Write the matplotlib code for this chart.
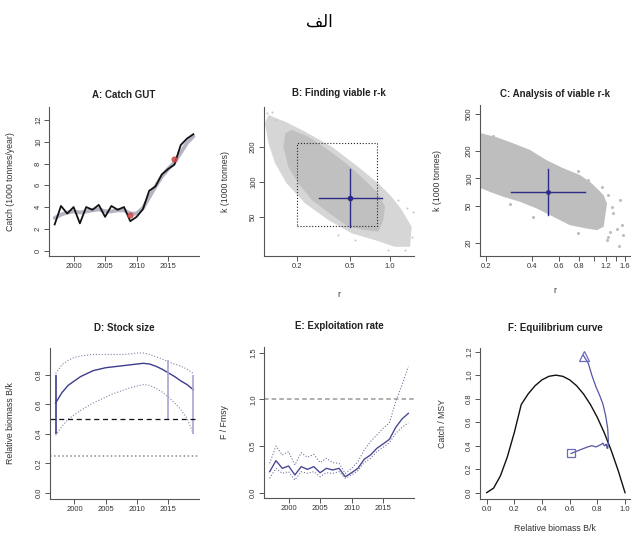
import matplotlib
matplotlib.use("Agg")
import matplotlib.pyplot as plt

plt.rcParams['font.family'] = ['Liberation Sans', 'DejaVu Sans']

# ---- data -------------------------------------------------------------
years = list(range(1997, 2020))

catch = [2.4, 4.1, 3.4, 4.0, 2.5, 4.0, 3.75, 4.2, 3.1, 4.1, 3.75, 4.0,
         2.7, 3.1, 3.8, 5.5, 5.9, 7.0, 7.5, 7.9, 9.7, 10.3, 10.7]
catch_smooth = [3.0, 3.3, 3.5, 3.6, 3.5, 3.6, 3.7, 3.8, 3.6, 3.6, 3.7, 3.7,
                3.4, 3.4, 3.9, 4.9, 5.9, 6.8, 7.5, 8.1, 9.0, 9.9, 10.5]
flag_years = [2009, 2016]
flag_catch = [3.3, 8.4]
msy = 9.0

# viable r-k cloud (outline of dense core and of the sparse fringe)
b_core_r = [0.1815, 0.242, 0.343, 0.485, 0.649, 0.817, 0.918, 0.891, 0.817,
            0.649, 0.485, 0.364, 0.257, 0.204, 0.171, 0.157, 0.162]
b_core_k = [279, 244, 187, 139, 103, 79, 61, 46.9, 37.2,
            38.4, 41, 51.8, 69.7, 96.8, 134, 200, 261]
b_fringe_r = [0.121, 0.162, 0.229, 0.364, 0.577, 0.817, 1.03, 1.23, 1.46, 1.42,
              1.09, 0.771, 0.515, 0.343, 0.229, 0.166, 0.136, 0.121, 0.114]
b_fringe_k = [375, 328, 269, 200, 134, 96.8, 74.3, 57.1, 41, 27.6,
              27.6, 31.5, 36, 46.9, 65.2, 96.8, 144, 214, 318]
b_out_r = [0.117, 1.34, 1.50, 1.46, 1.30, 0.973, 0.128, 1.16, 0.136, 0.546, 0.407]
b_out_k = [387, 59, 55.2, 33.7, 25.9, 25.9, 400, 69.7, 340, 31.5, 34.8]
prior_r = [0.2, 0.8]
prior_k = [41.6, 214]
b_r_med, b_r_lo, b_r_hi = 0.5, 0.293, 0.867
b_k_med, b_k_lo, b_k_hi = 72, 41, 128

c_cloud_r = [0.17, 0.1875, 0.235, 0.301, 0.386, 0.495, 0.636, 0.815, 0.946, 1.05,
             1.16, 1.22, 1.19, 1.16, 1.05, 0.902, 0.702, 0.547, 0.426, 0.333,
             0.259, 0.212, 0.1875, 0.17]
c_cloud_k = [309, 309, 280, 241, 204, 158, 129, 109, 92, 78,
             66, 53.6, 40, 29.9, 27.5, 28.6, 31.1, 38.4, 47.3, 55.8,
             63.3, 71.6, 78, 78]
c_out_r = [0.223, 0.794, 0.923, 1.13, 1.24, 1.31, 1.34, 1.48, 1.52, 1.56,
           1.41, 1.28, 1.24, 1.45, 1.22, 0.794, 0.406, 0.286]
c_out_k = [289, 121, 96, 80, 66, 49.2, 41.7, 58.2, 31.1, 24.3,
           28.6, 26.3, 23.2, 18.5, 21.4, 25.3, 38.4, 52.7]
c_r_med, c_r_lo, c_r_hi = 0.503, 0.289, 0.879
c_k_med, c_k_lo, c_k_hi = 71.6, 40, 126

bk_med = [0.61, 0.68, 0.73, 0.76, 0.79, 0.81, 0.83, 0.84, 0.85, 0.855, 0.86, 0.865,
          0.87, 0.875, 0.88, 0.875, 0.86, 0.84, 0.815, 0.79, 0.76, 0.735, 0.70]
bk_hi = [0.81, 0.87, 0.90, 0.92, 0.93, 0.935, 0.94, 0.94, 0.94, 0.94, 0.94, 0.94,
         0.945, 0.95, 0.95, 0.94, 0.925, 0.91, 0.89, 0.875, 0.86, 0.84, 0.81]
bk_lo = [0.39, 0.45, 0.50, 0.53, 0.56, 0.585, 0.61, 0.63, 0.65, 0.67, 0.685, 0.70,
         0.715, 0.725, 0.735, 0.73, 0.71, 0.685, 0.65, 0.61, 0.565, 0.505, 0.40]
bk_prior_years = [1997, 2015, 2019]
bk_prior_lo = [0.4, 0.5, 0.4]
bk_prior_hi = [0.8, 0.9, 0.8]

f_med = [0.225, 0.343, 0.261, 0.286, 0.19, 0.279, 0.25, 0.279, 0.214, 0.261, 0.243, 0.261,
         0.171, 0.214, 0.261, 0.358, 0.404, 0.475, 0.522, 0.572, 0.70, 0.79, 0.85]
f_hi = [0.315, 0.50, 0.404, 0.44, 0.297, 0.429, 0.379, 0.411, 0.322, 0.368, 0.322, 0.315,
        0.207, 0.261, 0.332, 0.457, 0.547, 0.618, 0.69, 0.75, 0.975, 1.154, 1.35]
f_lo = [0.154, 0.261, 0.207, 0.225, 0.136, 0.225, 0.207, 0.225, 0.171, 0.214, 0.207, 0.225,
        0.154, 0.19, 0.236, 0.322, 0.368, 0.44, 0.486, 0.536, 0.636, 0.70, 0.75]

eq_b = [0.0, 0.05, 0.1, 0.15, 0.2, 0.25, 0.3, 0.35, 0.4, 0.45, 0.5,
        0.55, 0.6, 0.65, 0.7, 0.75, 0.8, 0.85, 0.9, 0.95, 1.0]
eq_catch = [0.0, 0.038, 0.144, 0.306, 0.512, 0.75, 0.84, 0.91, 0.96, 0.99, 1.0,
            0.99, 0.96, 0.91, 0.84, 0.75, 0.64, 0.51, 0.36, 0.19, 0.0]

# ---- styling ----------------------------------------------------------
AXIS = '#555555'
TXT = '#333333'
NAVY = '#2c2c88'
LAB = 6.3
W, H = 639, 534


def panel(x0, y0, x1, y1):
    return fig.add_axes([x0 / W, 1 - y1 / H, (x1 - x0) / W, (y1 - y0) / H])


def style(ax, title, title_y, ylab, ylab_x):
    for s in ['top', 'right']:
        ax.spines[s].set_visible(False)
    for s in ['left', 'bottom']:
        ax.spines[s].set_color(AXIS)
        ax.spines[s].set_linewidth(0.8)
    ax.tick_params(which='both', direction='out', length=3.5, width=0.7, color=AXIS,
                   labelsize=5.5, labelcolor=TXT, pad=1.5)
    ax.tick_params(axis='y', labelrotation=90)
    ax.minorticks_off()
    for lab in ax.get_yticklabels():
        lab.set_verticalalignment('center')
    ax.text(0.5, title_y, title, transform=ax.transAxes, ha='center', va='center',
            fontsize=7, weight='bold', color='#222222')
    ax.set_ylabel(ylab, fontsize=LAB, color=TXT)
    ax.yaxis.set_label_coords(ylab_x, 0.5)


fig = plt.figure(figsize=(W / 100, H / 100), dpi=100)
# pre-shaped Arabic glyphs (matplotlib does no contextual shaping)
fig.text(0.5, 1 - 22 / H, '\ufed2\ufedf\ufe8d', ha='center', va='center',
         fontsize=12, family='DejaVu Sans')

# A: catch
ax = panel(49, 107, 199, 256)
ax.plot(years, catch_smooth, color='#b4b4c4', lw=2.8, solid_capstyle='round')
ax.plot(years, catch, color='#111111', lw=1.3)
ax.scatter(flag_years, flag_catch, s=12, color='#d04545', alpha=0.8, zorder=3)
ax.set_xlim(1996.1, 2019.9)
ax.set_ylim(-0.5, 13.2)
ax.set_xticks([2000, 2005, 2010, 2015])
ax.set_yticks(range(0, 13, 2))
style(ax, 'A: Catch GUT', 1.081, 'Catch (1000 tonnes/year)', -0.227)

# B: r-k search space
ax = panel(264, 107, 414, 256)
ax.set_xscale('log')
ax.set_yscale('log')
ax.fill(b_fringe_r, b_fringe_k, color='#d6d6d6', lw=0)
ax.fill(b_core_r, b_core_k, color='#c0c0c0', lw=0)
ax.scatter(b_out_r, b_out_k, s=2, color='#c4c4c4', lw=0)
ax.plot([prior_r[0], prior_r[1], prior_r[1], prior_r[0], prior_r[0]],
        [prior_k[0], prior_k[0], prior_k[1], prior_k[1], prior_k[0]],
        color='#222222', lw=0.8, ls=':')
ax.plot([b_r_lo, b_r_hi], [b_k_med, b_k_med], color=NAVY, lw=1)
ax.plot([b_r_med, b_r_med], [b_k_lo, b_k_hi], color=NAVY, lw=1)
ax.plot([b_r_med], [b_k_med], 'o', color=NAVY, ms=3)
ax.set_xlim(0.112, 1.52)
ax.set_ylim(23, 439)
ax.set_xticks([0.2, 0.5, 1.0])
ax.set_xticklabels(['0.2', '0.5', '1.0'])
ax.set_yticks([50, 100, 200])
ax.set_yticklabels(['50', '100', '200'])
style(ax, 'B: Finding viable r-k', 1.094, 'k (1000 tonnes)', -0.227)
ax.set_xlabel('r', fontsize=LAB, color=TXT)
ax.xaxis.set_label_coords(0.5, -0.228)

# C: viable r-k
ax = panel(480, 105, 630, 256)
ax.set_xscale('log')
ax.set_yscale('log')
ax.fill(c_cloud_r, c_cloud_k, color='#bebebe', lw=0)
ax.scatter(c_out_r, c_out_k, s=5, color='#bebebe', lw=0)
ax.plot([c_r_lo, c_r_hi], [c_k_med, c_k_med], color=NAVY, lw=1)
ax.plot([c_r_med, c_r_med], [c_k_lo, c_k_hi], color=NAVY, lw=1)
ax.plot([c_r_med], [c_k_med], 'o', color=NAVY, ms=2.5)
ax.set_xlim(0.183, 1.72)
ax.set_ylim(14.4, 628)
ax.set_xticks([0.2, 0.4, 0.6, 0.8, 1.0, 1.2, 1.4, 1.6])
ax.set_xticklabels(['0.2', '0.4', '0.6', '0.8', '', '1.2', '', '1.6'])
ax.set_yticks([20, 50, 100, 200, 500])
ax.set_yticklabels(['20', '50', '100', '200', '500'])
style(ax, 'C: Analysis of viable r-k', 1.076, 'k (1000 tonnes)', -0.255)
ax.set_xlabel('r', fontsize=LAB, color=TXT)
ax.xaxis.set_label_coords(0.5, -0.2)

# D: stock size
ax = panel(50, 348, 199, 499)
ax.plot(years, bk_hi, color='#8080a8', lw=0.8, ls=':')
ax.plot(years, bk_lo, color='#8080a8', lw=0.8, ls=':')
ax.plot(years, bk_med, color='#3c3c8c', lw=1)
ax.vlines(bk_prior_years, bk_prior_lo, bk_prior_hi,
          colors=['#3c3c8c', '#a4a4d4', '#a4a4d4'], lw=1.2)
ax.axhline(0.5, color='#111111', lw=0.9, ls=(0, (4, 3)))
ax.axhline(0.25, color='#8a8a8a', lw=1.1, ls=':')
ax.set_xlim(1996.1, 2019.9)
ax.set_ylim(-0.043, 0.984)
ax.set_xticks([2000, 2005, 2010, 2015])
ax.set_yticks([0.0, 0.2, 0.4, 0.6, 0.8])
ax.set_yticklabels(['0.0', '0.2', '0.4', '0.6', '0.8'])
style(ax, 'D: Stock size', 1.130, 'Relative biomass B/k', -0.235)

# E: exploitation
ax = panel(264, 347, 414, 498)
ax.plot(years, f_hi, color='#7070a0', lw=0.8, ls=':')
ax.plot(years, f_lo, color='#7070a0', lw=0.8, ls=':')
ax.plot(years, f_med, color='#4a4a96', lw=1)
ax.axhline(1.0, color='#999999', lw=1.1, ls=(0, (3, 2)))
ax.set_xlim(1996.1, 2019.9)
ax.set_ylim(-0.057, 1.561)
ax.set_xticks([2000, 2005, 2010, 2015])
ax.set_yticks([0.0, 0.5, 1.0, 1.5])
ax.set_yticklabels(['0.0', '0.5', '1.0', '1.5'])
style(ax, 'E: Exploitation rate', 1.137, 'F / Fmsy', -0.231)

# F: equilibrium curve with the stock trajectory
ax = panel(480, 348, 630, 499)
ax.plot(eq_b, eq_catch, color='#111111', lw=1)
traj_y = [c / msy for c in catch_smooth]
ax.plot(bk_med, traj_y, color='#5555a5', lw=0.9)
ax.plot(bk_med[0], traj_y[0], 's', mfc='none', mec='#6a6ab8', ms=6, mew=0.9)
ax.plot(bk_med[-1], traj_y[-1], '^', mfc='none', mec='#6a6ab8', ms=7, mew=0.9)
ax.set_xlim(-0.048, 1.036)
ax.set_ylim(-0.054, 1.231)
ax.set_xticks([0.0, 0.2, 0.4, 0.6, 0.8, 1.0])
ax.set_xticklabels(['0.0', '0.2', '0.4', '0.6', '0.8', '1.0'])
ax.set_yticks([0.0, 0.2, 0.4, 0.6, 0.8, 1.0, 1.2])
ax.set_yticklabels(['0.0', '0.2', '0.4', '0.6', '0.8', '1.0', '1.2'])
style(ax, 'F: Equilibrium curve', 1.130, 'Catch / MSY', -0.222)
ax.set_xlabel('Relative biomass B/k', fontsize=LAB, color=TXT)
ax.xaxis.set_label_coords(0.5, -0.165)

fig.savefig('out.png', dpi=100)
